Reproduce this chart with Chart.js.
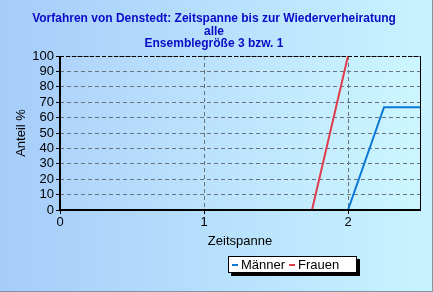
<!DOCTYPE html>
<html>
<head>
<meta charset="utf-8">
<script src="https://cdn.jsdelivr.net/npm/chart.js@4"></script>
<style>
  body { margin: 0; }
  #wrap { width: 433px; height: 292px; position: relative; }
</style>
</head>
<body>
<div id="wrap"><canvas id="graph"></canvas></div>
<script>
const titleLines = ['Vorfahren von Denstedt: Zeitspanne bis zur Wiederverheiratung', 'alle', 'Ensemblegröße 3 bzw. 1'];
const zeit = [0, 0.25, 0.5, 0.75, 1, 1.25, 1.5, 1.75, 2, 2.25, 2.5];
const maenner = [0, 0, 0, 0, 0, 0, 0, 0, 0, 66.7, 66.7];
const frauen = [0, 0, 0, 0, 0, 0, 0, 0, 100, null, null];
const seriesNames = ['Männer', 'Frauen'];
const seriesColors = ['rgb(10,120,215)', 'rgb(225,60,75)'];

const FONT = 'Liberation Sans, Arial, sans-serif';

const decor = {
    id: 'decor',
    beforeDraw(chart) {
        const ctx = chart.ctx;
        const w = chart.width, h = chart.height;
        const g = ctx.createLinearGradient(0, 0, w, 0);
        g.addColorStop(0, 'rgb(166,204,250)');
        g.addColorStop(1, 'rgb(200,244,255)');
        ctx.save();
        ctx.fillStyle = g;
        ctx.fillRect(0, 0, w, h);
        const a = chart.chartArea;
        const g2 = ctx.createLinearGradient(a.left, 0, a.right, 0);
        g2.addColorStop(0, 'rgb(176,212,250)');
        g2.addColorStop(1, 'rgb(204,246,255)');
        ctx.fillStyle = g2;
        ctx.fillRect(a.left, a.top, a.right - a.left, a.bottom - a.top);
        // outer frame
        ctx.strokeStyle = 'rgb(130,150,160)';
        ctx.lineWidth = 1;
        ctx.beginPath();
        ctx.moveTo(w - 0.5, 0);
        ctx.lineTo(w - 0.5, h - 0.5);
        ctx.lineTo(0, h - 0.5);
        ctx.stroke();
        // title
        ctx.fillStyle = 'rgb(10,10,200)';
        ctx.font = 'bold 12px ' + FONT;
        ctx.textAlign = 'center';
        ctx.textBaseline = 'middle';
        const ys = [19, 31.5, 44];
        titleLines.forEach((t, i) => ctx.fillText(t, 214, ys[i]));
        ctx.restore();
    },
    afterDatasetsDraw(chart) {
        const ctx = chart.ctx;
        const a = chart.chartArea;
        ctx.save();
        ctx.strokeStyle = '#000';
        // top dashed
        ctx.lineWidth = 1;
        ctx.setLineDash([4, 2]);
        ctx.beginPath();
        ctx.moveTo(a.left, a.top + 0.5);
        ctx.lineTo(a.right, a.top + 0.5);
        ctx.stroke();
        ctx.setLineDash([]);
        // right solid
        ctx.beginPath();
        ctx.moveTo(a.right + 0.5, a.top);
        ctx.lineTo(a.right + 0.5, a.bottom);
        ctx.stroke();
        // axes
        ctx.lineWidth = 2;
        ctx.beginPath();
        ctx.moveTo(a.left, a.top);
        ctx.lineTo(a.left, a.bottom);
        ctx.lineTo(a.right + 1, a.bottom);
        ctx.stroke();
        ctx.restore();
    },
    afterDraw(chart) {
        const ctx = chart.ctx;
        const x0 = 228, y0 = 256, bw = 129, bh = 17;
        ctx.save();
        ctx.fillStyle = '#000';
        ctx.fillRect(x0 + 3, y0 + 3, bw, bh);
        ctx.fillStyle = '#fff';
        ctx.fillRect(x0, y0, bw, bh);
        ctx.strokeStyle = '#000';
        ctx.lineWidth = 1;
        ctx.strokeRect(x0 + 0.5, y0 + 0.5, bw - 1, bh - 1);
        ctx.font = '13px ' + FONT;
        ctx.textBaseline = 'middle';
        ctx.textAlign = 'left';
        let x = x0 + 4;
        const cy = y0 + bh / 2 + 0.5;
        seriesNames.forEach((name, i) => {
            ctx.strokeStyle = seriesColors[i];
            ctx.lineWidth = 2;
            ctx.beginPath();
            ctx.moveTo(x, cy);
            ctx.lineTo(x + 6, cy);
            ctx.stroke();
            ctx.fillStyle = '#000';
            ctx.fillText(name, x + 9, cy);
            x += 9 + ctx.measureText(name).width + 4;
        });
        ctx.restore();
    }
};

new Chart(document.getElementById('graph'), {
    type: 'line',
    data: {
        datasets: [
            {
                label: seriesNames[0],
                data: zeit.map((z, i) => ({ x: z, y: maenner[i] })),
                borderColor: seriesColors[0],
                borderWidth: 2,
                pointRadius: 0,
                tension: 0
            },
            {
                label: seriesNames[1],
                data: zeit.map((z, i) => ({ x: z, y: frauen[i] })),
                borderColor: seriesColors[1],
                borderWidth: 2,
                pointRadius: 0,
                tension: 0
            }
        ]
    },
    options: {
        responsive: true,
        maintainAspectRatio: false,
        animation: false,
        layout: { padding: { top: 56, right: 13, left: 0, bottom: 0 } },
        plugins: {
            legend: { display: false },
            title: { display: false },
            tooltip: { enabled: false }
        },
        scales: {
            x: {
                type: 'linear',
                min: 0,
                max: 2.5,
                afterFit(s) { s.height = 82; },
                ticks: {
                    stepSize: 1,
                    includeBounds: false,
                    padding: 1,
                    color: '#000',
                    font: { family: FONT, size: 13 }
                },
                grid: {
                    color: 'rgb(105,115,125)',
                    tickLength: 4,
                    tickColor: '#000'
                },
                border: { display: false, dash: [4, 3] },
                title: {
                    display: true,
                    text: 'Zeitspanne',
                    color: '#000',
                    font: { family: FONT, size: 13 },
                    padding: { top: 0, bottom: 43 }
                }
            },
            y: {
                min: 0,
                max: 100,
                afterFit(s) { s.width = 60; },
                ticks: {
                    stepSize: 10,
                    autoSkip: false,
                    padding: 2,
                    color: '#000',
                    font: { family: FONT, size: 13 }
                },
                grid: {
                    color: 'rgb(105,115,125)',
                    tickLength: 4,
                    tickColor: '#000'
                },
                border: { display: false, dash: [4, 3] },
                title: {
                    display: true,
                    text: 'Anteil %',
                    color: '#000',
                    font: { family: FONT, size: 13 },
                    padding: { top: 14, bottom: 0 }
                }
            }
        }
    },
    plugins: [decor]
});
</script>
</body>
</html>
